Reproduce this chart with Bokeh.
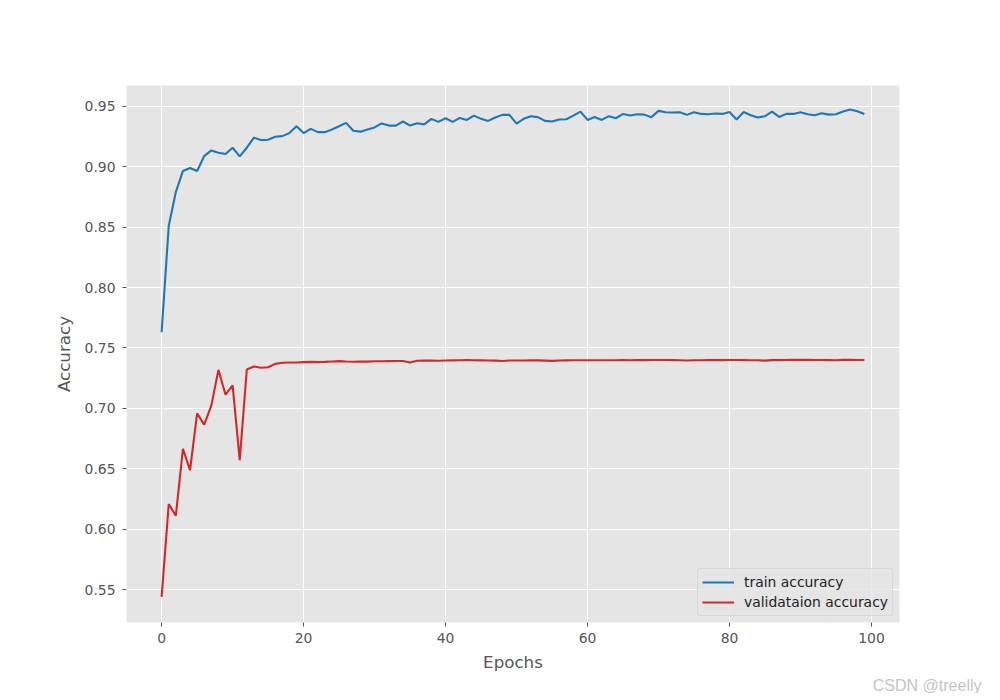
from bokeh.plotting import figure
from bokeh.models import FixedTicker, NumeralTickFormatter, Range1d, Legend, LegendItem, Title
from bokeh.embed import file_html
from bokeh.resources import INLINE

epochs = list(range(100))

train_accuracy = [
    0.763, 0.851, 0.879, 0.8965, 0.899, 0.8965, 0.9088, 0.9135, 0.9116, 0.9105,
    0.9157, 0.9086, 0.9157, 0.924, 0.922, 0.9223, 0.9248, 0.9253, 0.9278, 0.9335,
    0.9278, 0.9313, 0.9286, 0.9286, 0.9308, 0.9335, 0.9363, 0.9297, 0.929, 0.9308,
    0.9325, 0.9358, 0.934, 0.934, 0.9374, 0.934, 0.936, 0.935, 0.9396, 0.9371,
    0.9401, 0.9371, 0.9404, 0.9387, 0.9423, 0.9396, 0.9379, 0.9407, 0.9429, 0.9429,
    0.9357, 0.9396, 0.9418, 0.941, 0.9379, 0.9374, 0.939, 0.9393, 0.9423, 0.9456,
    0.9387, 0.9412, 0.9387, 0.9418, 0.9401, 0.9437, 0.9423, 0.9434, 0.9431, 0.941,
    0.9462, 0.9451, 0.9448, 0.9451, 0.9429, 0.9451, 0.9437, 0.9434, 0.944, 0.9437,
    0.9453, 0.939, 0.9453, 0.9426, 0.9407, 0.9418, 0.9456, 0.9412, 0.9437, 0.9437,
    0.9451, 0.9434, 0.9426, 0.9443, 0.9431, 0.9434, 0.9456, 0.9473, 0.9459, 0.9437,
]

validation_accuracy = [
    0.544, 0.6208, 0.6112, 0.6666, 0.6488, 0.6959, 0.6866, 0.7023, 0.7319, 0.7113,
    0.719, 0.6572, 0.7322, 0.7347, 0.7336, 0.7341, 0.7368, 0.7377, 0.738, 0.738,
    0.7383, 0.7385, 0.7383, 0.7385, 0.7388, 0.7391, 0.7388, 0.7386, 0.7388, 0.7387,
    0.739, 0.739, 0.7391, 0.7392, 0.7392, 0.738, 0.7394, 0.7395, 0.7395, 0.7394,
    0.7396, 0.7397, 0.7398, 0.7399, 0.7398, 0.7397, 0.7396, 0.7395, 0.7392, 0.7396,
    0.7396, 0.7396, 0.7397, 0.7397, 0.7395, 0.7393, 0.7396, 0.7397, 0.7398, 0.7398,
    0.7398, 0.7398, 0.7398, 0.7398, 0.7398, 0.7399, 0.7398, 0.7399, 0.7399, 0.74,
    0.74, 0.74, 0.7399, 0.7398, 0.7396, 0.7398, 0.7398, 0.74, 0.7399, 0.7399,
    0.74, 0.74, 0.7399, 0.7398, 0.7398, 0.7395, 0.7399, 0.7399, 0.74, 0.7401,
    0.7401, 0.7401, 0.74, 0.74, 0.7399, 0.7398, 0.7401, 0.7401, 0.74, 0.74,
]

x_ticks = [0, 20, 40, 60, 80, 100]
y_ticks = [0.55, 0.60, 0.65, 0.70, 0.75, 0.80, 0.85, 0.90, 0.95]

FONT = "DejaVu Sans"
TXT = "#555555"

p = figure(
    frame_width=773, frame_height=537,
    min_border_left=126, min_border_right=85, min_border_top=85, min_border_bottom=62,
    output_backend="svg", toolbar_location=None,
    x_range=Range1d(-4.95, 103.95), y_range=Range1d(0.5228, 0.9672),
)
p.background_fill_color = "#e5e5e5"
p.border_fill_color = "white"
p.outline_line_color = None

for g in (p.xgrid[0], p.ygrid[0]):
    g.grid_line_color = "white"
    g.grid_line_width = 1.0

p.xaxis.ticker = FixedTicker(ticks=x_ticks)
p.yaxis.ticker = FixedTicker(ticks=y_ticks)
p.yaxis.formatter = NumeralTickFormatter(format="0.00")

for ax in (p.xaxis[0], p.yaxis[0]):
    ax.axis_line_color = None
    ax.major_tick_line_color = TXT
    ax.major_tick_out = 4
    ax.major_tick_in = 0
    ax.minor_tick_line_color = None
    ax.major_label_text_font = FONT
    ax.major_label_text_font_size = "13.9px"
    ax.major_label_text_color = TXT
    ax.axis_label_text_font = FONT
    ax.axis_label_text_font_size = "16.7px"
    ax.axis_label_text_color = TXT
    ax.axis_label_text_font_style = "normal"

p.xaxis.major_label_standoff = 6
p.yaxis.major_label_standoff = 7
p.xaxis.axis_label = "Epochs"
p.yaxis.axis_label = "Accuracy"
p.xaxis.axis_label_standoff = 6
p.yaxis.axis_label_standoff = 8

r1 = p.line(epochs, train_accuracy, line_color="#1f77b4", line_width=2.1)
r2 = p.line(epochs, validation_accuracy, line_color="#d62728", line_width=2.1)

legend = Legend(
    items=[LegendItem(label="train accuracy", renderers=[r1]),
           LegendItem(label="validataion accuracy", renderers=[r2])],
    location="bottom_right",
    margin=6,
    padding=4,
    spacing=2,
    glyph_width=32,
    glyph_height=18,
    label_standoff=10,
    label_text_font=FONT,
    label_text_font_size="13.9px",
    label_text_color="#222222",
    background_fill_color="#e5e5e5",
    background_fill_alpha=0.8,
    border_line_color="#cccccc",
    border_line_width=1,
    border_radius=3,
)
p.add_layout(legend)

wm = Title(text="CSDN @treelly", align="right", text_font="Liberation Sans",
           text_font_size="16px", text_font_style="normal", text_color="#c4c4c4",
           offset=-82, standoff=0)
p.add_layout(wm, "below")

open("out.html", "w").write(file_html(p, INLINE))
